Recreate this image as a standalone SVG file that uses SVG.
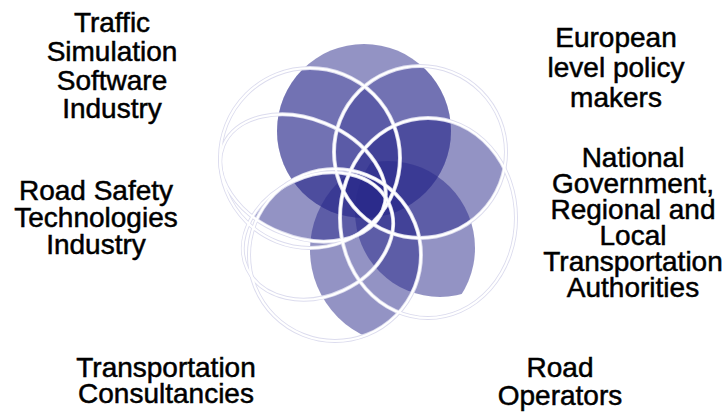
<svg xmlns="http://www.w3.org/2000/svg" width="726" height="415" viewBox="0 0 726 415">
<style>
.lbl{font-family:"Liberation Sans",Arial,sans-serif;font-size:28px;fill:#000;text-anchor:middle;stroke:#000;stroke-width:0.5}
.petal{fill:#28288a;fill-opacity:0.5}
.petal2{fill:#28288a;fill-opacity:0.3}
.halo{fill:none;stroke:#dcdcee;stroke-width:4}
.ring{fill:none;stroke:#ffffff;stroke-width:2.2}
</style>
<defs>
<clipPath id="cT"><circle cx="364" cy="131" r="87"/></clipPath>
<clipPath id="cR6"><ellipse cx="428" cy="218" rx="88" ry="100"/></clipPath>
<clipPath id="cLR"><circle cx="440" cy="212" r="85"/></clipPath>
<clipPath id="cC7"><circle cx="405" cy="250" r="95"/></clipPath>
<clipPath id="cE2"><ellipse cx="318" cy="236" rx="78" ry="60" transform="rotate(-25 318 236)"/></clipPath>
</defs>
<g id="rosette">
<g id="fills">
<circle class="petal" cx="364" cy="131" r="87"/>
<circle class="petal2" cx="310" cy="158" r="90" clip-path="url(#cT)"/>
<circle class="petal2" cx="420" cy="152" r="86" clip-path="url(#cT)"/>
<circle class="petal" cx="420" cy="152" r="86" clip-path="url(#cR6)"/>
<circle class="petal" cx="388" cy="248" r="87" clip-path="url(#cLR)"/>
<circle class="petal" cx="335" cy="255" r="86" clip-path="url(#cC7)"/>
<g clip-path="url(#cE2)"><ellipse class="petal" cx="303" cy="178" rx="86" ry="59" transform="rotate(22 303 178)"/></g>
</g>
<g id="rings-halo">
<circle class="halo" cx="310" cy="158" r="90"/>
<circle class="halo" cx="420" cy="152" r="86"/>
<ellipse class="halo" cx="303" cy="178" rx="86" ry="59" transform="rotate(22 303 178)"/>
<ellipse class="halo" cx="318" cy="236" rx="78" ry="60" transform="rotate(-25 318 236)"/>
<circle class="halo" cx="335" cy="255" r="86"/>
<ellipse class="halo" cx="428" cy="218" rx="88" ry="100"/>
</g>
<g id="rings">
<circle class="ring" cx="310" cy="158" r="90"/>
<circle class="ring" cx="420" cy="152" r="86"/>
<ellipse class="ring" cx="303" cy="178" rx="86" ry="59" transform="rotate(22 303 178)"/>
<ellipse class="ring" cx="318" cy="236" rx="78" ry="60" transform="rotate(-25 318 236)"/>
<circle class="ring" cx="335" cy="255" r="86"/>
<ellipse class="ring" cx="428" cy="218" rx="88" ry="100"/>
</g>
</g>
<g id="connectors"/>
<g id="n-traffic"><text class="lbl"><tspan x="112" y="32">Traffic</tspan><tspan x="112" y="61">Simulation</tspan><tspan x="112" y="90">Software</tspan><tspan x="112" y="118">Industry</tspan></text></g>
<g id="n-european"><text class="lbl"><tspan x="616" y="47">European</tspan><tspan x="616" y="77">level policy</tspan><tspan x="616" y="107">makers</tspan></text></g>
<g id="n-national"><text class="lbl"><tspan x="633" y="167">National</tspan><tspan x="633" y="193">Government,</tspan><tspan x="633" y="219">Regional and</tspan><tspan x="633" y="245">Local</tspan><tspan x="633" y="271">Transportation</tspan><tspan x="633" y="297">Authorities</tspan></text></g>
<g id="n-roadsafety"><text class="lbl"><tspan x="96" y="200">Road Safety</tspan><tspan x="96" y="227">Technologies</tspan><tspan x="96" y="254">Industry</tspan></text></g>
<g id="n-consult"><text class="lbl"><tspan x="166" y="377">Transportation</tspan><tspan x="166" y="403">Consultancies</tspan></text></g>
<g id="n-operators"><text class="lbl"><tspan x="560" y="377">Road</tspan><tspan x="560" y="405">Operators</tspan></text></g>
</svg>
